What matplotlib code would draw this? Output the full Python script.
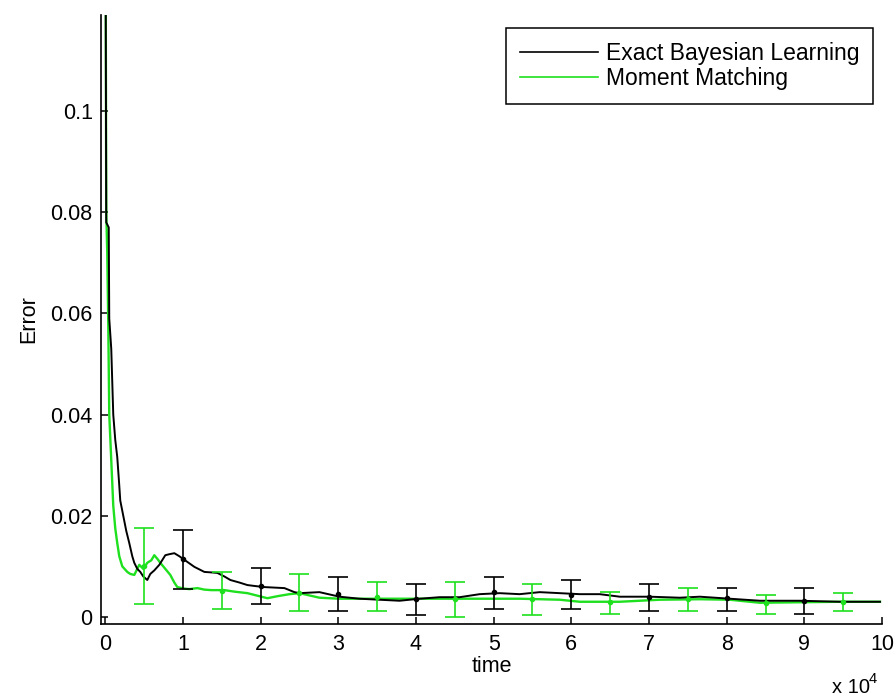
import numpy as np
import matplotlib
matplotlib.use('Agg')
import matplotlib.pyplot as plt

plt.rcParams['font.family'] = ['Liberation Sans', 'DejaVu Sans']

# curve samples (time, error)
exact_t = [0, 129, 450, 515, 773, 1031, 1289, 1546, 1804, 1933, 2191, 2448, 2706,
           3093, 3479, 3737, 4124, 4510, 4897, 5412, 5799, 6314, 6959, 7732, 8247,
           8892, 9536, 10180, 10825, 11469, 12113, 12758, 13660, 14433, 15336, 16109,
           17268, 18299, 19330, 20490, 21778, 23067, 24356, 25000, 27577, 30155,
           32732, 35309, 37887, 40464, 43041, 45619, 48196, 50773, 53351, 55928,
           58505, 61082, 63660, 66237, 70103, 73969, 76546, 80412, 84278, 89433,
           94588, 99742]
exact_err = [0.16, 0.078, 0.077, 0.059, 0.053, 0.040, 0.035, 0.0316, 0.026, 0.023,
             0.021, 0.019, 0.017, 0.0146, 0.012, 0.0107, 0.0095, 0.0089, 0.0080,
             0.0073, 0.0085, 0.0092, 0.0103, 0.0122, 0.0124, 0.0126, 0.0120, 0.0113,
             0.0106, 0.0099, 0.0094, 0.0089, 0.0088, 0.0087, 0.0080, 0.0073, 0.0068,
             0.0063, 0.0061, 0.0059, 0.0058, 0.0057, 0.0049, 0.0047, 0.0049, 0.0040,
             0.0036, 0.0034, 0.0032, 0.0036, 0.0039, 0.0039, 0.0045, 0.0047, 0.0045,
             0.0049, 0.0047, 0.0045, 0.0045, 0.0040, 0.0040, 0.0038, 0.0040, 0.0036,
             0.0032, 0.0032, 0.0030, 0.0030]

moment_t = [0, 129, 258, 387, 515, 773, 1031, 1289, 1546, 1804, 2191, 2835, 3222,
            3737, 4381, 4897, 5412, 5928, 6314, 6701, 7088, 7732, 8376, 8892, 9278,
            10180, 10825, 11856, 12758, 13660, 15336, 16624, 18299, 19588, 20877,
            22165, 23712, 25000, 27577, 30155, 32732, 35309, 37887, 43041, 48196,
            53351, 58505, 61082, 66237, 71392, 76546, 80412, 84278, 89433, 94588,
            99742]
moment_err = [0.16, 0.080, 0.072, 0.058, 0.040, 0.031, 0.022, 0.0175, 0.0146, 0.012,
              0.0100, 0.0089, 0.0085, 0.0083, 0.0103, 0.0095, 0.0107, 0.0112, 0.0122,
              0.0115, 0.0107, 0.0095, 0.0083, 0.0068, 0.0059, 0.0056, 0.0055, 0.0057,
              0.0054, 0.0053, 0.0053, 0.0050, 0.0047, 0.0042, 0.0037, 0.0041, 0.0045,
              0.0047, 0.0038, 0.0036, 0.0036, 0.0036, 0.0036, 0.0036, 0.0036, 0.0036,
              0.0034, 0.0030, 0.0030, 0.0034, 0.0035, 0.0034, 0.0028, 0.0029, 0.0030,
              0.0030]

# error bars (centre, lower, upper)
exact_bar_t = [10000, 20000, 30000, 40000, 50000, 60000, 70000, 80000, 90000]
exact_bar_mid = [0.0114, 0.0061, 0.0045, 0.0036, 0.0049, 0.0043, 0.0040, 0.0037, 0.0032]
exact_bar_lo = [0.0055, 0.0026, 0.0012, 0.0004, 0.0016, 0.0016, 0.0012, 0.0012, 0.0006]
exact_bar_hi = [0.0172, 0.0097, 0.0079, 0.0065, 0.0079, 0.0073, 0.0065, 0.0057, 0.0057]

moment_bar_t = [5000, 15000, 25000, 35000, 45000, 55000, 65000, 75000, 85000, 95000]
moment_bar_mid = [0.0101, 0.0052, 0.0048, 0.0040, 0.0035, 0.0036, 0.0030, 0.0035, 0.0027, 0.0029]
moment_bar_lo = [0.0026, 0.0016, 0.0012, 0.0012, 0.0000, 0.0004, 0.0006, 0.0012, 0.0006, 0.0012]
moment_bar_hi = [0.0176, 0.0089, 0.0085, 0.0069, 0.0069, 0.0065, 0.0049, 0.0057, 0.0043, 0.0047]

green = '#1ee01e'
fs = 15.5

fig = plt.figure(figsize=(8.96, 6.98), dpi=100)
ax = fig.add_axes([0.1127, 0.106, 0.8717, 0.8725])

ax.plot(exact_t, exact_err, color='k', lw=1.4, label='Exact Bayesian Learning', zorder=3)
ax.plot(moment_t, moment_err, color=green, lw=1.7, label='Moment Matching', zorder=2)

mid = np.array(exact_bar_mid)
ax.errorbar(exact_bar_t, mid, yerr=[mid - np.array(exact_bar_lo), np.array(exact_bar_hi) - mid],
            fmt='.', color='k', ms=6, capsize=7, elinewidth=1.2, capthick=1.2, zorder=4)
mid = np.array(moment_bar_mid)
ax.errorbar(moment_bar_t, mid, yerr=[mid - np.array(moment_bar_lo), np.array(moment_bar_hi) - mid],
            fmt='.', color=green, ms=6, capsize=7, elinewidth=1.2, capthick=1.2, zorder=4)

ax.set_xlim(-550, 100000)
ax.set_ylim(-0.0014, 0.119)
ax.spines['top'].set_visible(False)
ax.spines['right'].set_visible(False)
ax.spines['left'].set_linewidth(1.2)
ax.spines['bottom'].set_linewidth(1.2)

xt = np.arange(0, 100001, 10000)
ax.set_xticks(xt)
ax.set_xticklabels([str(int(v / 10000)) for v in xt])
yt = [0, 0.02, 0.04, 0.06, 0.08, 0.1]
ax.set_yticks(yt)
ax.set_yticklabels(['0', '0.02', '0.04', '0.06', '0.08', '0.1'])
ax.tick_params(direction='in', length=5, width=1.1, labelsize=fs, pad=6, colors='k')
ax.tick_params(axis='x', pad=7)

ax.set_xlabel('time', fontsize=fs, labelpad=1)
ax.set_ylabel('Error', fontsize=fs, labelpad=8)

# MATLAB style exponent under the x axis
ax.text(0.936, -0.105, 'x 10', transform=ax.transAxes, fontsize=14.5, ha='left', va='center')
ax.text(0.983, -0.090, '4', transform=ax.transAxes, fontsize=10.5, ha='left', va='center')

leg = ax.legend(loc='upper right', bbox_to_anchor=(0.9885, 0.9787), borderaxespad=0,
                fontsize=16.5, fancybox=False, edgecolor='k', framealpha=1,
                handlelength=3.4, handletextpad=0.35, borderpad=0.6, labelspacing=0.12)
leg.get_frame().set_linewidth(1.1)
for h in leg.get_lines():
    h.set_linewidth(1.2)

fig.savefig('out.png', dpi=100)
